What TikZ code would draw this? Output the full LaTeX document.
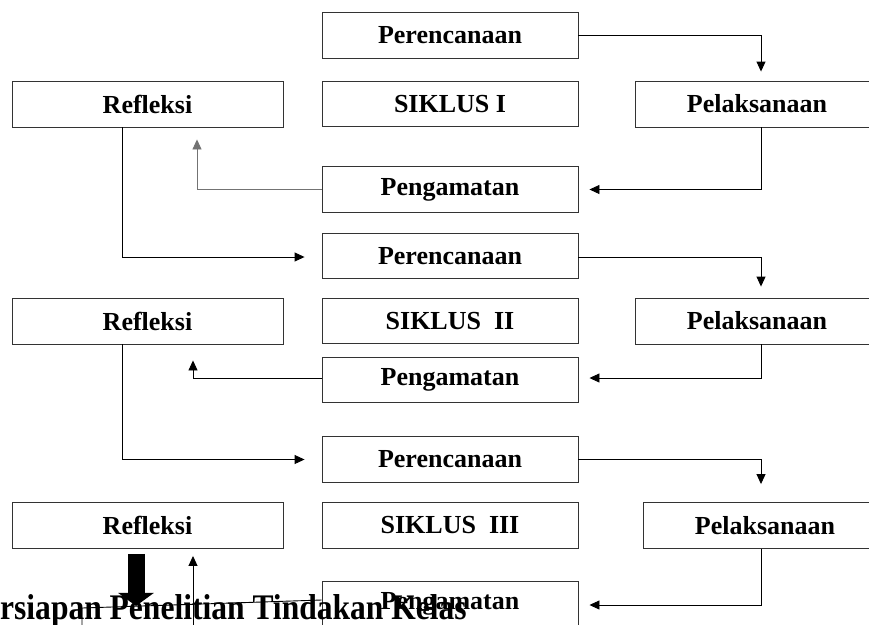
\documentclass[tikz,border=0pt]{standalone}
\usepackage{fontspec}
\setmainfont{Liberation Serif}
\usetikzlibrary{arrows.meta}
\tikzset{
  box/.style={draw=black!80, line width=0.9pt, rectangle, inner sep=0pt,
    font=\bfseries\fontsize{26}{30}\selectfont, text=black},
  mid/.style={box, minimum width=256pt, minimum height=45.5pt},
  side/.style={box, minimum width=271pt, minimum height=46pt},
  right/.style={box, minimum width=244pt, minimum height=46pt},
  conn/.style={draw=black, line width=0.9pt, -{Triangle[width=9pt,length=10pt]}},
  plain/.style={draw=black, line width=0.9pt},
}
\begin{document}
\begin{tikzpicture}[x=1pt,y=-1pt]
\clip (0,0) rectangle (869,624);
\fill[white] (0,0) rectangle (869,624);
% cycle I
\node[mid]   (per1)  at (450,35.5)  {Perencanaan};
\node[side]  (ref1)  at (147.5,104) {Refleksi};
\node[mid]   (sik1)  at (450,104)   {SIKLUS I};
\node[right] (pel1)  at (757,104)   {Pelaksanaan};
\node[mid]   (peng1) at (450,189.5) {Pengamatan};
% cycle II
\node[mid]   (per2)  at (450,256)   {Perencanaan};
\node[side]  (ref2)  at (147.5,321) {Refleksi};
\node[mid]   (sik2)  at (450,321)   {SIKLUS\ \ II};
\node[right] (pel2)  at (757,321)   {Pelaksanaan};
\node[mid]   (peng2) at (450,380)   {Pengamatan};
% cycle III
\node[mid]   (per3)  at (450,459.5) {Perencanaan};
\node[side]  (ref3)  at (147.5,525.5) {Refleksi};
\node[mid]   (sik3)  at (450,525.5) {SIKLUS\ \ III};
\node[right] (pel3)  at (765,525.5) {Pelaksanaan};
\node[mid]   (peng3) at (450,604)   {Pengamatan};
% connectors cycle I
\draw[conn, shorten >=9pt] (per1.east) -| ([xshift=4pt]pel1.north);
\draw[conn, shorten >=11pt] ([xshift=4pt]pel1.south) |- (peng1.east);
\draw[conn, draw=black!55, shorten >=12pt] (peng1.west) -| ([xshift=49.5pt]ref1.south);
\draw[conn, shorten >=17pt] ([xshift=-25.5pt]ref1.south) |- ([yshift=-1pt]per2.west);
% connectors cycle II
\draw[conn, shorten >=11pt] ([yshift=-1pt]per2.east) -| ([xshift=4pt]pel2.north);
\draw[conn, shorten >=11pt] ([xshift=4pt]pel2.south) |- ([yshift=2pt]peng2.east);
\draw[conn, shorten >=16pt] ([yshift=2pt]peng2.west) -| ([xshift=45.5pt]ref2.south);
\draw[conn, shorten >=17pt] ([xshift=-25.5pt]ref2.south) |- (per3.west);
% connectors cycle III
\draw[conn, shorten >=18pt] (per3.east) -| ([xshift=-4pt]pel3.north);
\draw[conn, shorten >=11pt] ([xshift=-4pt]pel3.south) |- ([yshift=-1pt]peng3.east);
% bottom
\draw[line width=17pt, shorten <=5pt, -{Triangle[width=35pt,length=13pt]}]
  ([xshift=-11.5pt]ref3.south) -- ++(0,57);
\coordinate (upfoot) at (193,630);
\draw[conn, shorten >=7pt] (upfoot) -- ([xshift=45.5pt]ref3.south);
\coordinate (lc) at (82,608);
\coordinate (lfoot) at (82,630);
\draw[plain] ([yshift=4pt]peng3.west) -- (lc) -- (lfoot);
\node[anchor=base west, inner sep=0pt, font=\bfseries\fontsize{36}{40}\selectfont]
  (title) at (0,619) {\scalebox{0.876}[1]{rsiapan Penelitian Tindakan Kelas}};
\end{tikzpicture}
\end{document}
